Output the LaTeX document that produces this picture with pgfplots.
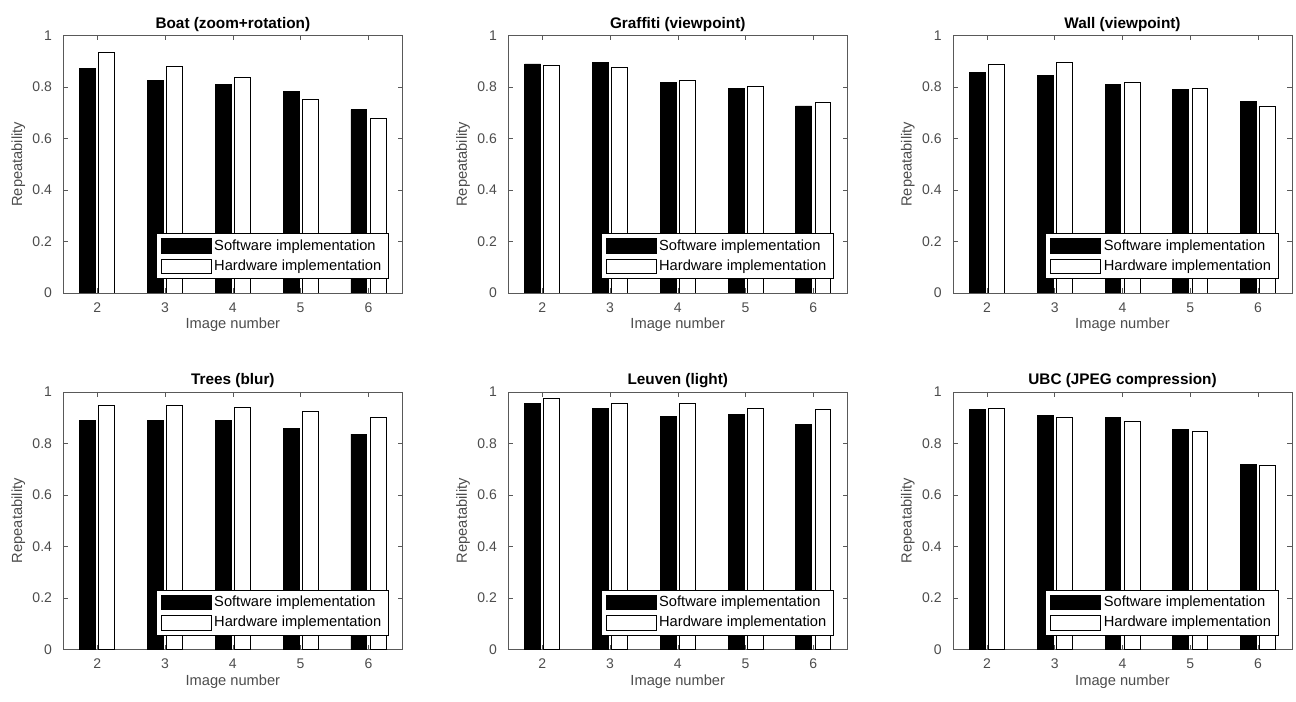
\documentclass[border=0pt]{standalone}
\usepackage{pgfplots}
\usepackage{pgfplotstable}
\pgfplotsset{compat=1.18}
\usepackage{fontspec}
\setmainfont{Liberation Sans}

\definecolor{axgray}{gray}{0.35}
\definecolor{labgray}{gray}{0.3}

% repeatability per image number: software / hardware
\pgfplotstableread{
x sw hw
2 0.873 0.933
3 0.825 0.881
4 0.812 0.836
5 0.783 0.752
6 0.713 0.677
}\boat
\pgfplotstableread{
x sw hw
2 0.890 0.885
3 0.896 0.878
4 0.818 0.828
5 0.794 0.803
6 0.727 0.739
}\graffiti
\pgfplotstableread{
x sw hw
2 0.858 0.890
3 0.847 0.895
4 0.811 0.818
5 0.790 0.794
6 0.745 0.727
}\wall
\pgfplotstableread{
x sw hw
2 0.888 0.948
3 0.888 0.949
4 0.888 0.939
5 0.859 0.924
6 0.836 0.900
}\trees
\pgfplotstableread{
x sw hw
2 0.955 0.974
3 0.937 0.957
4 0.906 0.957
5 0.911 0.935
6 0.874 0.934
}\leuven
\pgfplotstableread{
x sw hw
2 0.931 0.935
3 0.908 0.900
4 0.900 0.887
5 0.854 0.847
6 0.718 0.715
}\ubc

\pgfplotsset{
  legpatch/.style={legend image code/.code={\draw[##1] (0pt,-5.5pt) rectangle (37.5pt,5.5pt);}},
  panel/.style={
    width=254.25pt, height=193pt, scale only axis,
    xmin=1.5, xmax=6.5, ymin=0, ymax=1,
    xtick={2,3,4,5,6}, ytick={0,0.2,0.4,0.6,0.8,1},
    major tick length=3.5pt,
    xtick pos=both, ytick pos=both,
    axis line style={axgray},
    every tick/.style={axgray},
    /pgf/number format/assume math mode=true,
    tick label style={labgray, font=\fontsize{10.5}{12}\selectfont},
    yticklabel style={xshift=-5pt},
    xticklabel style={yshift=-3.5pt},
    label style={labgray, font=\fontsize{11}{13}\selectfont},
    xlabel={Image number},
    ylabel={Repeatability},
    xlabel style={at={(axis description cs:0.5,-0.124)}, anchor=center},
    ylabel style={at={(axis description cs:-0.133,0.5)}, anchor=center},
    title style={font=\bfseries\fontsize{11.5}{13}\selectfont, yshift=-6.5pt},
    legend style={at={(1,0)}, anchor=south east, xshift=-10pt, yshift=10.5pt,
      draw=black, line width=0.5pt, inner xsep=3.5pt, inner ysep=2.5pt, row sep=1.75pt,
      font=\fontsize{11}{13}\selectfont},
    legend cell align=left,
  },
}

\newcommand{\panel}[4]{%
\begin{axis}[panel, at={(#1,#2)}, anchor=south west, title={#3}]
\addplot[ybar, bar width=0.234, bar shift=-0.141, fill=black, draw=black, line width=0.6pt, legpatch] table[x=x, y=sw] {#4};
\addlegendentry{Software implementation}
\addplot[ybar, bar width=0.234, bar shift=0.141, fill=white, draw=black, line width=0.6pt, legpatch] table[x=x, y=hw] {#4};
\addlegendentry{Hardware implementation}
\end{axis}}

\begin{document}
\begin{tikzpicture}
\useasboundingbox (0,0) rectangle (972pt,526.5pt);
\panel{47.5pt}{306.75pt}{Boat (zoom+rotation)}{\boat}
\panel{381.2pt}{306.75pt}{Graffiti (viewpoint)}{\graffiti}
\panel{714.75pt}{306.75pt}{Wall (viewpoint)}{\wall}
\panel{47.5pt}{39.5pt}{Trees (blur)}{\trees}
\panel{381.2pt}{39.5pt}{Leuven (light)}{\leuven}
\panel{714.75pt}{39.5pt}{UBC (JPEG compression)}{\ubc}
\end{tikzpicture}
\end{document}
